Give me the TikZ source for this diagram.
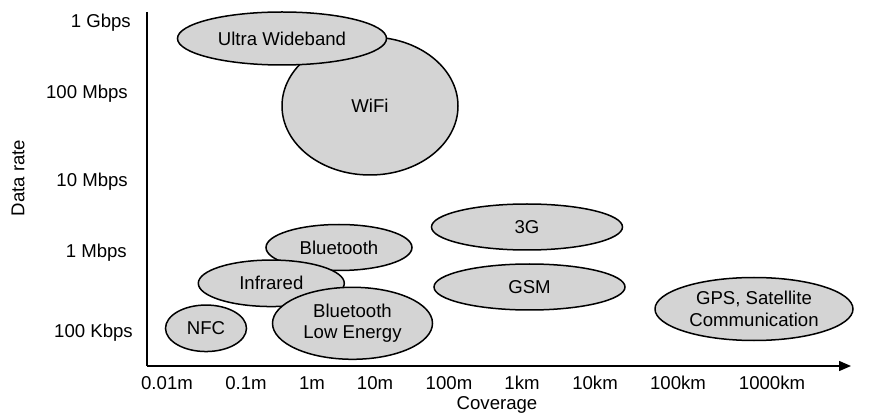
\documentclass[tikz,border=0pt]{standalone}
\usepackage{fontspec}
\setmainfont{Liberation Sans}
\usetikzlibrary{shapes.geometric,arrows.meta}
\definecolor{bubble}{RGB}{212,212,212}
\tikzset{
  tech/.style={ellipse, draw=black, line width=1.5pt, fill=bubble,
    inner sep=0pt, align=center},
  ylab/.style={anchor=east, inner sep=0pt},
  xlab/.style={anchor=center, inner sep=0pt},
  axisline/.style={line width=1.5pt}
}
\begin{document}
\begin{tikzpicture}[x=1pt,y=-1pt,font=\fontsize{18.6}{21.5}\selectfont]
\useasboundingbox (0,0) rectangle (872,419);

% axes
\coordinate (ytop) at (147,12);
\coordinate (orig) at (147,366);
\coordinate (xend) at (851,366);
\draw[axisline] (ytop) -- (orig);
\draw[axisline,-{Triangle[length=12pt,width=10pt]}] (orig) -- (xend);

% data-rate ticks
\node[ylab] (g1)   at (131,23)  {1 Gbps};
\node[ylab] (m100) at (128,94)  {100 Mbps};
\node[ylab] (m10)  at (128,182) {10 Mbps};
\node[ylab] (m1)   at (127,253) {1 Mbps};
\node[ylab] (k100) at (133,333) {100 Kbps};
\node[rotate=90, inner sep=0pt] (yname) at (18,178) {Data rate};

% coverage ticks
\node[xlab] (c1) at (167,383) {0.01m};
\node[xlab] (c2) at (246,383) {0.1m};
\node[xlab] (c3) at (312,383) {1m};
\node[xlab] (c4) at (375,383) {10m};
\node[xlab] (c5) at (449,383) {100m};
\node[xlab] (c6) at (522,383) {1km};
\node[xlab] (c7) at (595,383) {10km};
\node[xlab] (c8) at (678,383) {100km};
\node[xlab] (c9) at (772,383) {1000km};
\node[xlab] (xname) at (497,405) {Coverage};

% technologies
\node[tech, minimum width=176pt, minimum height=138pt] (wifi) at (370,106) {WiFi};
\node[tech, minimum width=209pt, minimum height=53pt] (uwb) at (282,38.5) {Ultra Wideband};
\node[tech, minimum width=146pt, minimum height=46pt] (bt) at (339,247.5) {Bluetooth};
\node[tech, minimum width=146pt, minimum height=46.5pt] (ir) at (271.3,283.3) {Infrared};
\node[tech, minimum width=81pt, minimum height=46.5pt] (nfc) at (206,328.3) {NFC};
\node[tech, minimum width=160pt, minimum height=72pt] (ble) at (352.5,323.3) {Bluetooth\\Low Energy};
\node[tech, minimum width=191pt, minimum height=46pt] (g3) at (527,227) {3G};
\node[tech, minimum width=191pt, minimum height=46pt] (gsm) at (529.5,287) {GSM};
\node[tech, minimum width=198pt, minimum height=63pt] (gps) at (754,309) {GPS, Satellite\\Communication};
\end{tikzpicture}
\end{document}
